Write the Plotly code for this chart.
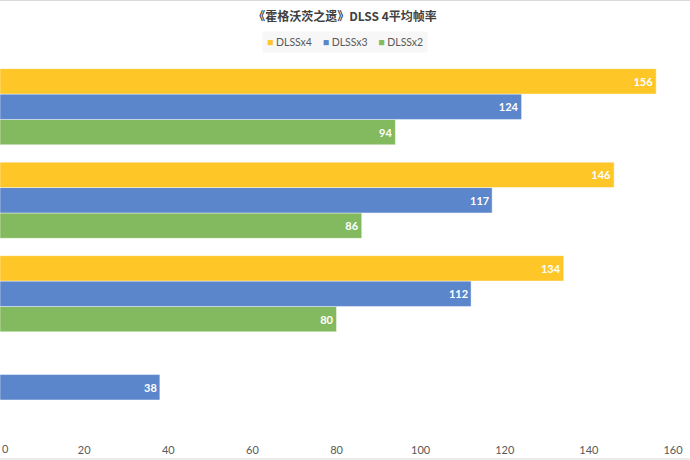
import plotly.graph_objects as go

categories = ["场景A", "场景B", "场景C", "场景D"]  # bottom to top
dlss_x4 = [None, 134, 146, 156]
dlss_x3 = [38, 112, 117, 124]
dlss_x2 = [None, 80, 86, 94]
x_ticks = [0, 20, 40, 60, 80, 100, 120, 140, 160]
legend_names = ["DLSSx4", "DLSSx3", "DLSSx2"]

W, H = 690, 460
ML, MR, MT, MB = 0, 17, 60, 26

colors = {"DLSSx4": "#FFC627", "DLSSx3": "#5B86CC", "DLSSx2": "#84BA5F"}
series = [("DLSSx2", dlss_x2), ("DLSSx3", dlss_x3), ("DLSSx4", dlss_x4)]

fig = go.Figure()
for name, vals in series:
    fig.add_trace(go.Bar(
        y=categories, x=vals, name=name, orientation="h",
        marker=dict(color=colors[name], line=dict(color="rgba(255,255,255,0.55)", width=0.8)),
        text=[str(v) if v is not None else "" for v in vals],
        textposition="inside", insidetextanchor="end",
        textfont=dict(color="white", size=11, family="Lato", weight="bold"),
        showlegend=False,
        cliponaxis=False,
    ))

ph = H - MT - MB
def py(pix):
    return 1 - (pix - MT) / ph

legend_text = "&nbsp;&nbsp;&nbsp;&nbsp;".join(
    f'<span style="color:{colors[n]}">■</span> {n}' for n in legend_names
)

fig.update_layout(
    width=W, height=H,
    margin=dict(l=ML, r=MR, t=MT, b=MB, autoexpand=False),
    paper_bgcolor="white", plot_bgcolor="white",
    barmode="group", bargap=0.185, bargroupgap=0.0,
    font=dict(family="Lato, Noto Sans CJK SC", color="#595959", size=11),
    title=dict(
        text="《霍格沃茨之遗》DLSS 4平均帧率",
        x=345 / W, xref="container", xanchor="center",
        y=1 - 17 / H, yanchor="middle",
        font=dict(family="Noto Sans CJK SC, Lato", size=12, color="#404040", weight="bold"),
    ),
    xaxis=dict(
        range=[0, 160], tickvals=x_ticks, ticktext=[str(t) for t in x_ticks],
        showgrid=False, zeroline=False, showline=False, ticks="",
        ticklabelstandoff=8,
        tickfont=dict(size=11, color="#595959", family="Lato"),
        automargin=False, fixedrange=True,
    ),
    yaxis=dict(
        showticklabels=False, showgrid=False, zeroline=False,
        showline=True, linecolor="#868686", linewidth=1, ticks="",
        automargin=False, fixedrange=True,
    ),
    annotations=[
        dict(text=legend_text, xref="paper", yref="paper",
             x=(345 - ML) / (W - ML - MR), y=py(42), xanchor="center", yanchor="middle",
             showarrow=False, bgcolor="#F7F7F7", borderpad=4,
             font=dict(size=10.5, color="#595959", family="Lato")),
        dict(text="0", xref="x", yref="paper", x=0, y=py(448),
             xanchor="left", yanchor="middle", showarrow=False,
             font=dict(size=11, color="#595959", family="Lato")),
    ],
    shapes=[
        dict(type="line", xref="paper", yref="paper", x0=-0.01, x1=1.1,
             y0=py(0.5), y1=py(0.5), line=dict(color="#D9D9D9", width=1)),
        dict(type="line", xref="paper", yref="paper", x0=-0.01, x1=1.1,
             y0=py(459), y1=py(459), line=dict(color="#D9D9D9", width=1)),
    ],
)

fig.write_html("out.html")
